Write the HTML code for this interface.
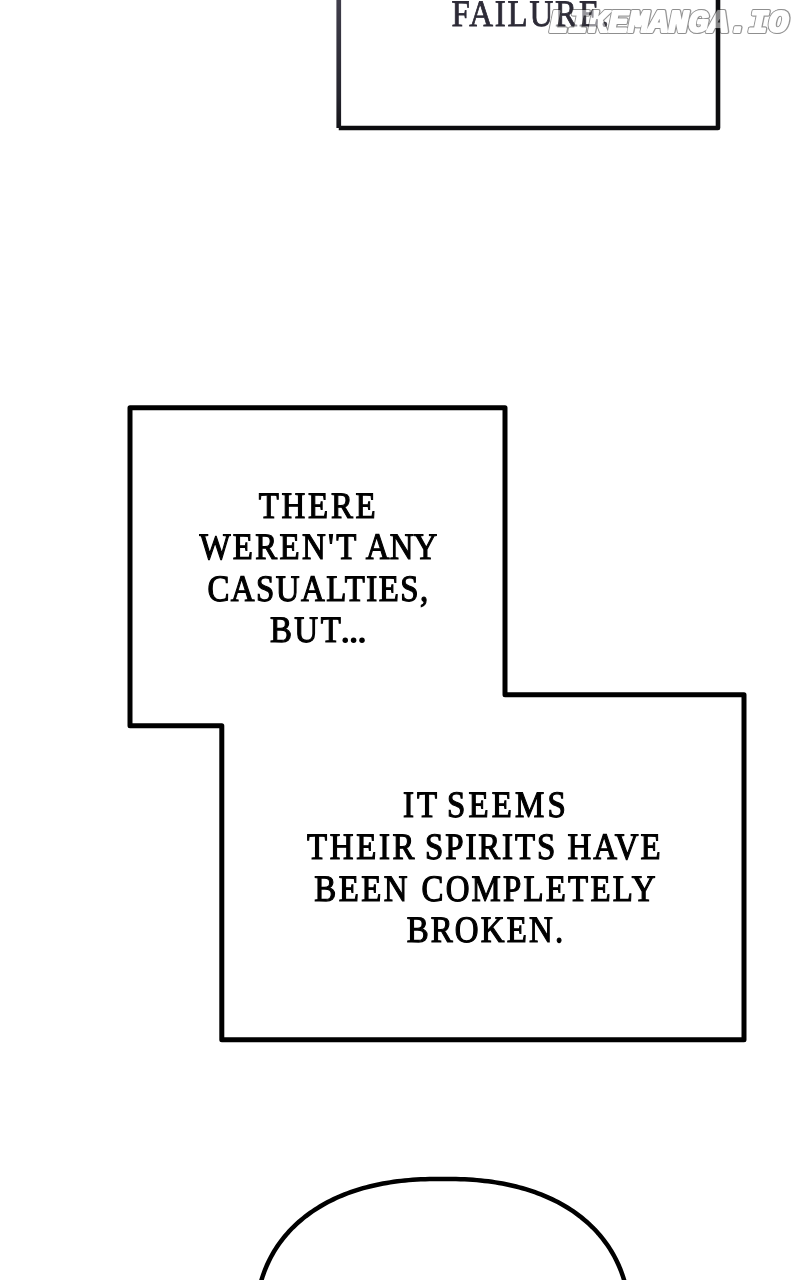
<!DOCTYPE html>
<html><head><meta charset="utf-8">
<style>
html,body{margin:0;padding:0;background:#fff;width:800px;height:1280px;overflow:hidden}
svg{display:block;will-change:transform}
.t{text-rendering:geometricPrecision;font-family:"Liberation Serif",serif;fill:#000;stroke:#000;stroke-width:1.2;font-size:37.4px}
.ft{text-rendering:geometricPrecision;font-family:"Liberation Serif",serif;fill:#2d2b37;stroke:#2d2b37;stroke-width:0.8;font-size:37.4px}
.wm{font-family:"Liberation Mono",monospace;font-weight:bold;font-style:italic;font-size:31px}
.wo{fill:#222;stroke:#222;stroke-width:3.9;stroke-linejoin:round}
.wf{fill:#fff;stroke:#fff;stroke-width:2.2;stroke-linejoin:round}
</style></head>
<body>
<svg width="800" height="1280" viewBox="0 0 800 1280">
<rect width="800" height="1280" fill="#fff"/>
<defs><linearGradient id="lg" gradientUnits="userSpaceOnUse" x1="0" y1="0" x2="0" y2="128"><stop offset="0" stop-color="#403e4b"/><stop offset="0.75" stop-color="#25242d"/><stop offset="1" stop-color="#141418"/></linearGradient></defs>
<path d="M338.75,128 L718,128 L718,-10" fill="none" stroke="#0c0c0e" stroke-width="4.6" stroke-linejoin="round"/>
<path d="M338.75,-10 L338.75,128" fill="none" stroke="url(#lg)" stroke-width="4.7"/>
<path d="M130,407.75 L505,407.75 L505,694.8 L744,694.8 L744,1039.8 L221.8,1039.8 L221.8,725.8 L130,725.8 Z" fill="none" stroke="#000" stroke-width="5" stroke-linejoin="round"/>
<text class="t" transform="translate(258.75,517.50) scale(0.88,1)" textLength="132.87" lengthAdjust="spacing">THERE</text>
<text class="t" transform="translate(199.49,559.10) scale(0.88,1)" textLength="178.20" lengthAdjust="spacing">WEREN'T</text>
<text class="t" transform="translate(365.72,559.10) scale(0.88,1)" textLength="81.40" lengthAdjust="spacing">ANY</text>
<text class="t" transform="translate(207.40,600.70) scale(0.88,1)" textLength="250.99" lengthAdjust="spacing">CASUALTIES,</text>
<text class="t" transform="translate(269.88,642.30) scale(0.88,1)" textLength="80.52" lengthAdjust="spacing">BUT</text>
<text class="t" transform="translate(402.89,817.10) scale(0.88,1)" textLength="39.03" lengthAdjust="spacing">IT</text>
<text class="t" transform="translate(446.98,817.10) scale(0.88,1)" textLength="134.93" lengthAdjust="spacing">SEEMS</text>
<text class="t" transform="translate(306.95,858.80) scale(0.88,1)" textLength="122.24" lengthAdjust="spacing">THEIR</text>
<text class="t" transform="translate(425.08,858.80) scale(0.88,1)" textLength="147.86" lengthAdjust="spacing">SPIRITS</text>
<text class="t" transform="translate(567.48,858.80) scale(0.88,1)" textLength="105.84" lengthAdjust="spacing">HAVE</text>
<text class="t" transform="translate(314.28,900.50) scale(0.88,1)" textLength="105.97" lengthAdjust="spacing">BEEN</text>
<text class="t" transform="translate(421.50,900.50) scale(0.88,1)" textLength="265.85" lengthAdjust="spacing">COMPLETELY</text>
<text class="t" transform="translate(406.68,942.10) scale(0.88,1)" textLength="177.78" lengthAdjust="spacing">BROKEN.</text>
<text class="ft" transform="translate(451.45,25.60) scale(0.88,1)" textLength="179.14" lengthAdjust="spacing">FAILURE.</text>
<g fill="#000"><circle cx="345.25" cy="640.25" r="2.75"/><circle cx="353.6" cy="640.25" r="2.75"/><circle cx="362" cy="640.25" r="2.75"/></g>
<path d="M258.12,1293.92 L258.70,1290.97 L259.35,1288.07 L260.05,1285.21 L260.80,1282.39 L261.61,1279.61 L262.47,1276.87 L263.39,1274.17 L264.37,1271.51 L265.39,1268.88 L266.47,1266.29 L267.61,1263.73 L268.79,1261.21 L270.03,1258.72 L271.33,1256.27 L272.67,1253.85 L274.07,1251.47 L275.52,1249.12 L277.03,1246.81 L278.58,1244.53 L280.19,1242.28 L281.84,1240.07 L283.55,1237.90 L285.31,1235.76 L287.12,1233.65 L288.98,1231.58 L290.88,1229.55 L292.84,1227.55 L294.85,1225.59 L296.90,1223.67 L299.00,1221.78 L301.15,1219.93 L303.35,1218.12 L305.59,1216.34 L307.89,1214.61 L310.22,1212.91 L312.61,1211.24 L315.04,1209.62 L317.51,1208.04 L320.03,1206.50 L322.60,1204.99 L325.21,1203.53 L327.86,1202.10 L330.56,1200.72 L333.30,1199.37 L336.09,1198.07 L338.92,1196.81 L341.79,1195.59 L344.70,1194.41 L347.66,1193.27 L350.66,1192.17 L353.71,1191.12 L356.80,1190.11 L359.93,1189.14 L363.10,1188.21 L366.32,1187.33 L369.58,1186.49 L372.89,1185.69 L376.24,1184.94 L379.64,1184.23 L383.09,1183.56 L386.59,1182.94 L390.14,1182.36 L393.74,1181.83 L397.40,1181.34 L401.12,1180.89 L404.91,1180.49 L408.77,1180.13 L412.70,1179.82 L416.73,1179.55 L420.87,1179.33 L425.15,1179.15 L429.60,1179.01 L434.31,1178.92 L439.51,1178.88 L446.08,1178.88 L451.28,1178.92 L455.99,1179.01 L460.44,1179.15 L464.72,1179.33 L468.86,1179.55 L472.89,1179.82 L476.82,1180.13 L480.68,1180.49 L484.47,1180.89 L488.19,1181.34 L491.85,1181.83 L495.45,1182.36 L499.00,1182.94 L502.50,1183.56 L505.95,1184.23 L509.35,1184.94 L512.70,1185.69 L516.01,1186.49 L519.27,1187.33 L522.49,1188.21 L525.66,1189.14 L528.79,1190.11 L531.88,1191.12 L534.93,1192.17 L537.93,1193.27 L540.89,1194.41 L543.80,1195.59 L546.67,1196.81 L549.50,1198.07 L552.29,1199.37 L555.03,1200.72 L557.73,1202.10 L560.38,1203.53 L562.99,1204.99 L565.56,1206.50 L568.08,1208.04 L570.55,1209.62 L572.98,1211.24 L575.37,1212.91 L577.70,1214.61 L580.00,1216.34 L582.24,1218.12 L584.44,1219.93 L586.59,1221.78 L588.69,1223.67 L590.74,1225.59 L592.75,1227.55 L594.71,1229.55 L596.61,1231.58 L598.47,1233.65 L600.28,1235.76 L602.04,1237.90 L603.75,1240.07 L605.40,1242.28 L607.01,1244.53 L608.56,1246.81 L610.07,1249.12 L611.52,1251.47 L612.92,1253.85 L614.26,1256.27 L615.56,1258.72 L616.80,1261.21 L617.98,1263.73 L619.12,1266.29 L620.20,1268.88 L621.22,1271.51 L622.20,1274.17 L623.12,1276.87 L623.98,1279.61 L624.79,1282.39 L625.54,1285.21 L626.24,1288.07 L626.89,1290.97 L627.47,1293.92" fill="none" stroke="#000" stroke-width="4.5" stroke-linejoin="round"/>
<g opacity="0.5"><text class="wm wo" x="548.5" y="31.6" textLength="240" lengthAdjust="spacingAndGlyphs" transform="translate(0.5,0.7)" style="fill:#666;stroke:#666">LIKEMANGA.IO</text><text class="wm wo" x="548.5" y="31.6" textLength="240" lengthAdjust="spacingAndGlyphs">LIKEMANGA.IO</text><text class="wm wf" x="548.5" y="31.6" textLength="240" lengthAdjust="spacingAndGlyphs">LIKEMANGA.IO</text></g>
</svg>
</body></html>
